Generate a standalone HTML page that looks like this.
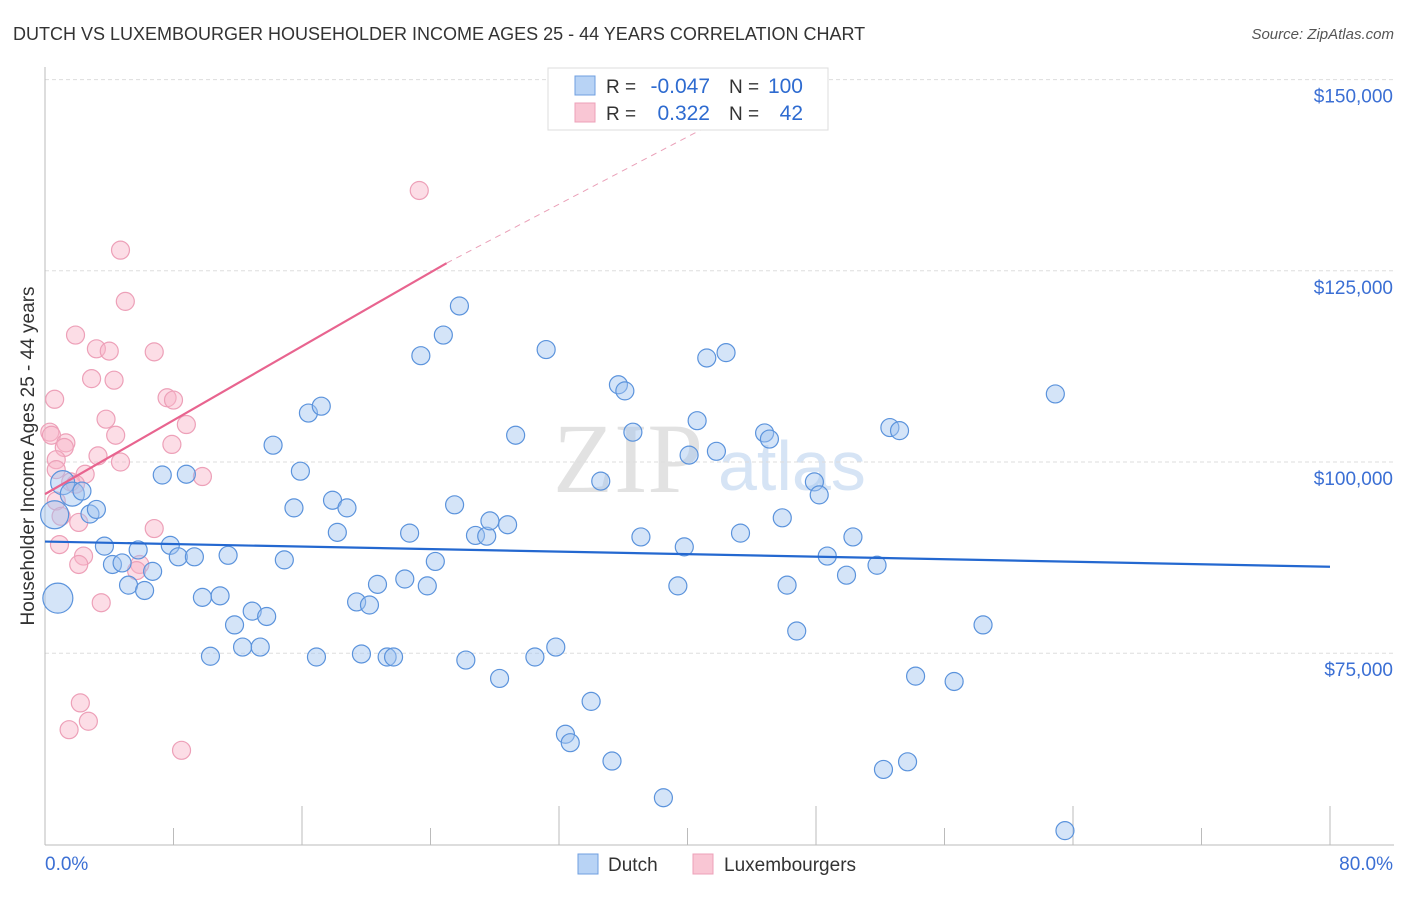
<!DOCTYPE html>
<html><head><meta charset="utf-8"><style>
body{margin:0;background:#fff;font-family:"Liberation Sans",sans-serif;}
#wrap{position:relative;width:1406px;height:892px;}
</style></head><body>
<div id="wrap">
<svg id="svg" width="1406" height="892"></svg>
</div>
<script>
const dutchX=[0.8,1.1,1.7,2.3,2.8,3.2,3.7,4.2,4.8,5.2,5.8,6.2,6.7,7.3,7.8,8.3,8.8,9.3,9.8,10.3,10.9,11.4,11.8,12.3,12.9,13.4,13.8,14.2,14.9,15.5,15.9,16.4,16.9,17.2,17.9,18.2,18.8,19.4,19.7,20.2,20.7,21.3,21.7,22.4,22.7,23.4,23.8,24.3,24.8,25.5,25.8,26.2,26.8,27.5,27.7,28.3,28.8,29.3,30.5,31.2,31.8,32.4,32.7,34.0,34.6,35.3,35.7,36.1,36.6,37.1,38.5,39.4,39.8,40.1,40.6,41.2,41.8,42.4,43.3,44.8,45.1,45.9,46.2,46.8,47.9,48.2,48.7,49.9,50.3,51.8,52.2,52.6,53.2,53.7,54.2,56.6,58.4,62.9,63.5,0.6];
const dutchY=[82200,97300,95800,96200,93200,93800,89000,86600,86800,83900,88500,83200,85700,98300,89100,87600,98400,87600,82300,74600,82500,87800,78700,75800,80500,75800,79800,102200,87200,94000,98800,106400,74500,107300,95000,90800,94000,81700,74900,81300,84000,74500,74500,84700,90700,113900,83800,87000,116600,94400,120400,74100,90400,90300,92300,71700,91800,103500,74500,114700,75800,64400,63300,68700,97500,60900,110100,109300,103900,90200,56100,83800,88900,100900,105400,113600,101400,114300,90700,103800,103000,92700,83900,77900,97400,95700,87700,85200,90200,86500,59800,104500,104100,60800,72000,71300,78700,108900,51800,93100];
const dutchR=[15,12,12,9,9,9,9,9,9,9,9,9,9,9,9,9,9,9,9,9,9,9,9,9,9,9,9,9,9,9,9,9,9,9,9,9,9,9,9,9,9,9,9,9,9,9,9,9,9,9,9,9,9,9,9,9,9,9,9,9,9,9,9,9,9,9,9,9,9,9,9,9,9,9,9,9,9,9,9,9,9,9,9,9,9,9,9,9,9,9,9,9,9,9,9,9,9,9,9,14];
const luxX=[23.3,4.7,5.0,1.9,3.2,4.0,6.8,2.9,4.3,0.6,7.6,8.0,3.8,8.8,0.3,0.4,4.4,1.3,1.2,7.9,3.3,4.7,0.7,0.7,2.5,9.8,1.6,1.9,0.7,1.0,2.1,6.8,0.9,2.4,2.1,5.9,5.7,3.5,2.2,2.7,1.5,8.5];
const luxY=[135500,127700,121000,116600,114800,114500,114400,110900,110700,108200,108400,108100,105600,104900,103900,103500,103500,102500,101900,102300,100800,100000,100300,99000,98400,98100,97400,97100,94900,92900,92100,91300,89200,87700,86600,86600,85800,81600,68500,66100,65000,62300];
const xTicks=[0,8,16,24,32,40,48,56,64,72,80];
const yTicks=[75000,100000,125000,150000];
const yTickLabels=["$75,000","$100,000","$125,000","$150,000"];
const dutchTrend=[[0,89600],[80,86300]];
const luxTrend=[[0,95800],[25,126000],[40.8,143400]];

const X0=45,X1=1330,YB=845;
function xs(v){return X0+(v/80)*(X1-X0);}
function ys(v){return 462-(v-100000)*191.2/25000;}
const NS="http://www.w3.org/2000/svg";
const svg=document.getElementById('svg');
function mk(tag,attrs,parent){const e=document.createElementNS(NS,tag);for(const k in attrs)e.setAttribute(k,attrs[k]);(parent||svg).appendChild(e);return e;}

let t=mk('text',{x:13,y:40,'font-size':18,fill:'#333'});t.textContent="DUTCH VS LUXEMBOURGER HOUSEHOLDER INCOME AGES 25 - 44 YEARS CORRELATION CHART";


t=mk('text',{x:1394,y:39,'font-size':15,fill:'#555','font-style':'italic','text-anchor':'end'});t.textContent="Source: ZipAtlas.com";



t=mk('text',{x:553,y:492,'font-size':100,fill:'#e2e2e2','font-family':'Liberation Serif, serif'});t.textContent="ZIP";


t=mk('text',{x:718,y:490,'font-size':70,fill:'#d6e4f5'});t.textContent="atlas";



yTicks.forEach((v,i)=>{
 const g=mk('line',{x1:X0,x2:1394,y1:ys(v),y2:ys(v),stroke:'#ddd','stroke-dasharray':'4,3'});
 
 
 const l=mk('text',{x:1393,y:ys(v)+23,'font-size':19,fill:'#3b6fd4','text-anchor':'end'});l.textContent=yTickLabels[i];
 
 
});
let a=mk('line',{x1:X0,x2:X0,y1:67,y2:YB,stroke:'#bbb'});


a=mk('line',{x1:X0,x2:1394,y1:YB,y2:YB,stroke:'#bbb'});


xTicks.forEach((v,i)=>{
 const tk=mk('line',{x1:xs(v),x2:xs(v),y1:(i%2==0&&i>0)?806:828,y2:YB,stroke:'#bbb'});
 
 
});
t=mk('text',{x:45,y:870,'font-size':19,fill:'#3b6fd4'});t.textContent="0.0%";


t=mk('text',{x:1393,y:870,'font-size':19,fill:'#3b6fd4','text-anchor':'end'});t.textContent="80.0%";


t=mk('text',{x:0,y:0,'font-size':19,fill:'#333','text-anchor':'middle',transform:'translate(34,456) rotate(-90)'});t.textContent="Householder Income Ages 25 - 44 years";



luxX.forEach((v,i)=>{
 const c=mk('circle',{cx:xs(v),cy:ys(luxY[i]),r:9,fill:'rgba(248,180,200,0.45)',stroke:'#eda0b8','stroke-width':1.2});
 
 
});
dutchX.forEach((v,i)=>{
 const c=mk('circle',{cx:xs(v),cy:ys(dutchY[i]),r:dutchR[i],fill:'rgba(160,196,240,0.45)',stroke:'#5b93dc','stroke-width':1.2});
 
 
});
let ln=mk('line',{x1:xs(dutchTrend[0][0]),y1:ys(dutchTrend[0][1]),x2:xs(dutchTrend[1][0]),y2:ys(dutchTrend[1][1]),stroke:'#2468d0','stroke-width':2.2});


ln=mk('line',{x1:xs(luxTrend[0][0]),y1:ys(luxTrend[0][1]),x2:xs(luxTrend[1][0]),y2:ys(luxTrend[1][1]),stroke:'#e8648f','stroke-width':2.2});


ln=mk('line',{x1:xs(luxTrend[1][0]),y1:ys(luxTrend[1][1]),x2:xs(luxTrend[2][0]),y2:ys(luxTrend[2][1]),stroke:'#eaa0b8','stroke-width':1,'stroke-dasharray':'6,5'});



const lg=mk('g',{});


mk('rect',{x:548,y:68,width:280,height:62,fill:'#fff',stroke:'#ddd'},lg);
mk('rect',{x:575,y:76,width:20,height:19,fill:'#b8d3f5',stroke:'#6f9fe0'},lg);
mk('rect',{x:575,y:103,width:20,height:19,fill:'#f9c6d4',stroke:'#eda0b8'},lg);
[[93,"-0.047","100"],[120,"0.322","42"]].forEach(r=>{
 let a=mk('text',{x:606,y:r[0],'font-size':19,fill:'#333'},lg);a.textContent="R =";
 a=mk('text',{x:710,y:r[0],'font-size':21,fill:'#2e6bd0','text-anchor':'end'},lg);a.textContent=r[1];
 a=mk('text',{x:729,y:r[0],'font-size':19,fill:'#333'},lg);a.textContent="N =";
 a=mk('text',{x:803,y:r[0],'font-size':21,fill:'#2e6bd0','text-anchor':'end'},lg);a.textContent=r[2];
});
const bl=mk('g',{});


mk('rect',{x:578,y:854,width:20,height:20,fill:'#b8d3f5',stroke:'#6f9fe0'},bl);
t=mk('text',{x:608,y:871,'font-size':19,fill:'#333'},bl);t.textContent="Dutch";
mk('rect',{x:693,y:854,width:20,height:20,fill:'#f9c6d4',stroke:'#eda0b8'},bl);
t=mk('text',{x:724,y:871,'font-size':19,fill:'#333'},bl);t.textContent="Luxembourgers";
</script>
</body></html>
